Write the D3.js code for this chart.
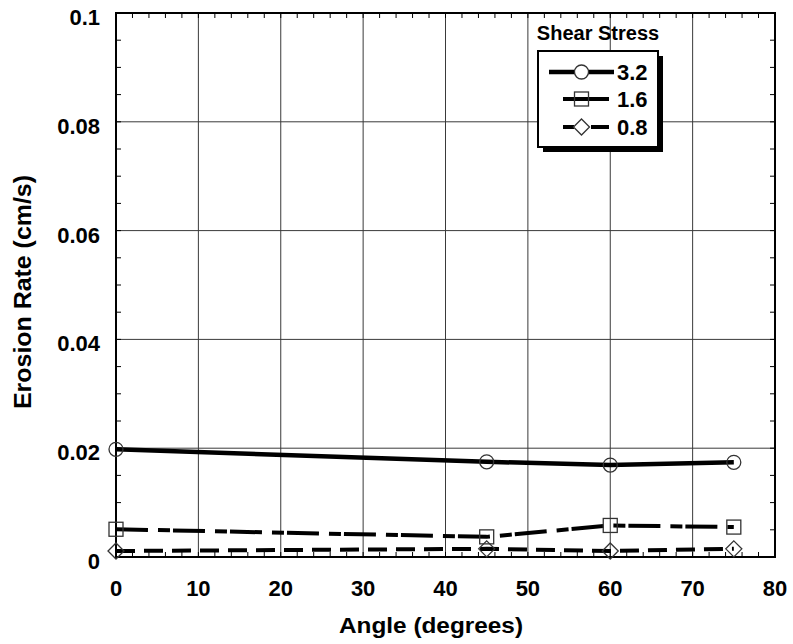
<!DOCTYPE html>
<html>
<head>
<meta charset="utf-8">
<script src="https://cdn.jsdelivr.net/npm/d3@7/dist/d3.min.js"></script>
<style>
  html, body { margin: 0; padding: 0; background: #fff; }
  svg { display: block; }
  text { font-family: "Liberation Sans", Arial, Helvetica, sans-serif; font-weight: bold; fill: #000; }
</style>
</head>
<body>
<div id="chart"></div>
<script>
// ---- Data ----
const angles = [0, 45, 60, 75];
const series32 = [0.0198, 0.0175, 0.0169, 0.0174];
const series16 = [0.0051, 0.0037, 0.0058, 0.0055];
const series08 = [0.0011, 0.0015, 0.0011, 0.0015];
const seriesNames = ["3.2", "1.6", "0.8"];
const xTickLabels = [0, 10, 20, 30, 40, 50, 60, 70, 80];
const yTickLabels = [0, 0.02, 0.04, 0.06, 0.08, 0.1];
const legendTitle = "Shear Stress";
const xTitle = "Angle (degrees)";
const yTitle = "Erosion Rate (cm/s)";

const W = 793, H = 644;
const svg = d3.select("#chart").append("svg").attr("width", W).attr("height", H);

const x = d3.scaleLinear().domain([0, 80]).range([116, 775]);
const y = d3.scaleLinear().domain([0, 0.1]).range([557, 13]);

const [x0, x1] = x.range();
const [y0, y1] = y.range();

// gridlines
const grid = svg.append("g").attr("stroke", "#3a3a3a").attr("stroke-width", 1);
xTickLabels.filter(v => v > 0 && v < 80).forEach(v => {
  grid.append("line").attr("x1", x(v)).attr("x2", x(v)).attr("y1", y1).attr("y2", y0);
});
yTickLabels.filter(v => v > 0 && v < 0.1).forEach(v => {
  grid.append("line").attr("y1", y(v)).attr("y2", y(v)).attr("x1", x0).attr("x2", x1);
});

// minor ticks
const tk = svg.append("g").attr("stroke", "#000").attr("stroke-width", 1);
const tl = 5;
d3.range(2, 80, 2).forEach(v => {
  tk.append("line").attr("x1", x(v)).attr("x2", x(v)).attr("y1", y0).attr("y2", y0 - tl);
  tk.append("line").attr("x1", x(v)).attr("x2", x(v)).attr("y1", y1).attr("y2", y1 + tl);
});
d3.range(1, 20).map(i => i * 0.005).forEach(v => {
  tk.append("line").attr("y1", y(v)).attr("y2", y(v)).attr("x1", x0).attr("x2", x0 + tl);
  tk.append("line").attr("y1", y(v)).attr("y2", y(v)).attr("x1", x1).attr("x2", x1 - tl);
});

// frame
svg.append("rect").attr("x", x0).attr("y", y1).attr("width", x1 - x0).attr("height", y0 - y1)
  .attr("fill", "none").attr("stroke", "#000").attr("stroke-width", 2);

// tick labels
svg.append("g").selectAll("text").data(xTickLabels).join("text")
  .attr("x", d => x(d)).attr("y", y0 + 39)
  .attr("text-anchor", "middle").attr("font-size", 22)
  .text(d => d);
svg.append("g").selectAll("text").data(yTickLabels).join("text")
  .attr("x", 100).attr("y", d => y(d) + 12)
  .attr("text-anchor", "end").attr("font-size", 22)
  .text(d => d);

// axis titles
svg.append("text").attr("x", 431).attr("y", 633)
  .attr("text-anchor", "middle").attr("font-size", 22)
  .attr("textLength", 184).attr("lengthAdjust", "spacingAndGlyphs")
  .text(xTitle);
svg.append("text").attr("transform", "translate(31,292) rotate(-90)")
  .attr("text-anchor", "middle").attr("font-size", 23)
  .attr("textLength", 234).attr("lengthAdjust", "spacingAndGlyphs")
  .text(yTitle);

// series
const seriesData = [
  { name: seriesNames[0], vals: series32, dash: null, width: 4.5, marker: "circle" },
  { name: seriesNames[1], vals: series16, dash: "32,10,12,3", width: 4, marker: "square" },
  { name: seriesNames[2], vals: series08, dash: "19,9", width: 4, marker: "diamond" }
];

const line = d3.line().x(d => x(d[0])).y(d => y(d[1]));

function drawMarker(g, type, cx, cy) {
  const s = 7;
  let el;
  if (type === "circle") {
    el = g.append("circle").attr("cx", cx).attr("cy", cy).attr("r", s);
  } else if (type === "square") {
    el = g.append("rect").attr("x", cx - s).attr("y", cy - s).attr("width", 2 * s).attr("height", 2 * s);
  } else {
    const d = s + 1;
    el = g.append("path").attr("d", `M${cx},${cy - d}L${cx + d},${cy}L${cx},${cy + d}L${cx - d},${cy}Z`);
  }
  el.attr("fill", "none").attr("stroke", "#333").attr("stroke-width", 1.3);
  return el;
}

seriesData.forEach(s => {
  const pts = angles.map((a, i) => [a, s.vals[i]]);
  svg.append("path").datum(pts).attr("d", line)
    .attr("fill", "none").attr("stroke", "#000").attr("stroke-width", s.width)
    .attr("stroke-dasharray", s.dash);
  const g = svg.append("g");
  pts.forEach(p => drawMarker(g, s.marker, x(p[0]), y(p[1])));
});

// legend
svg.append("text").attr("x", 598).attr("y", 40).attr("text-anchor", "middle")
  .attr("font-size", 20).text(legendTitle);
const lx = 538, ly = 51, lw = 120, lh = 96;
svg.append("rect").attr("x", lx + 5).attr("y", ly + 5).attr("width", lw).attr("height", lh).attr("fill", "#000");
svg.append("rect").attr("x", lx).attr("y", ly).attr("width", lw).attr("height", lh)
  .attr("fill", "#fff").attr("stroke", "#000").attr("stroke-width", 2);
const mx = 581.5;
const legRows = [
  { s: seriesData[0], yy: 72, segs: [[549, 614]], fill: "#fff" },
  { s: seriesData[1], yy: 99, segs: [[563, 609]], fill: "none" },
  { s: seriesData[2], yy: 127, segs: [[563, 574], [591, 609]], fill: "#fff" }
];
legRows.forEach(r => {
  r.segs.forEach(sg => {
    svg.append("line").attr("x1", sg[0]).attr("x2", sg[1]).attr("y1", r.yy).attr("y2", r.yy)
      .attr("stroke", "#000").attr("stroke-width", r.s.width);
  });
  drawMarker(svg, r.s.marker, mx, r.yy).attr("fill", r.fill);
  svg.append("text").attr("x", 617).attr("y", r.yy + 8).attr("font-size", 22).text(r.s.name);
});
</script>
</body>
</html>
